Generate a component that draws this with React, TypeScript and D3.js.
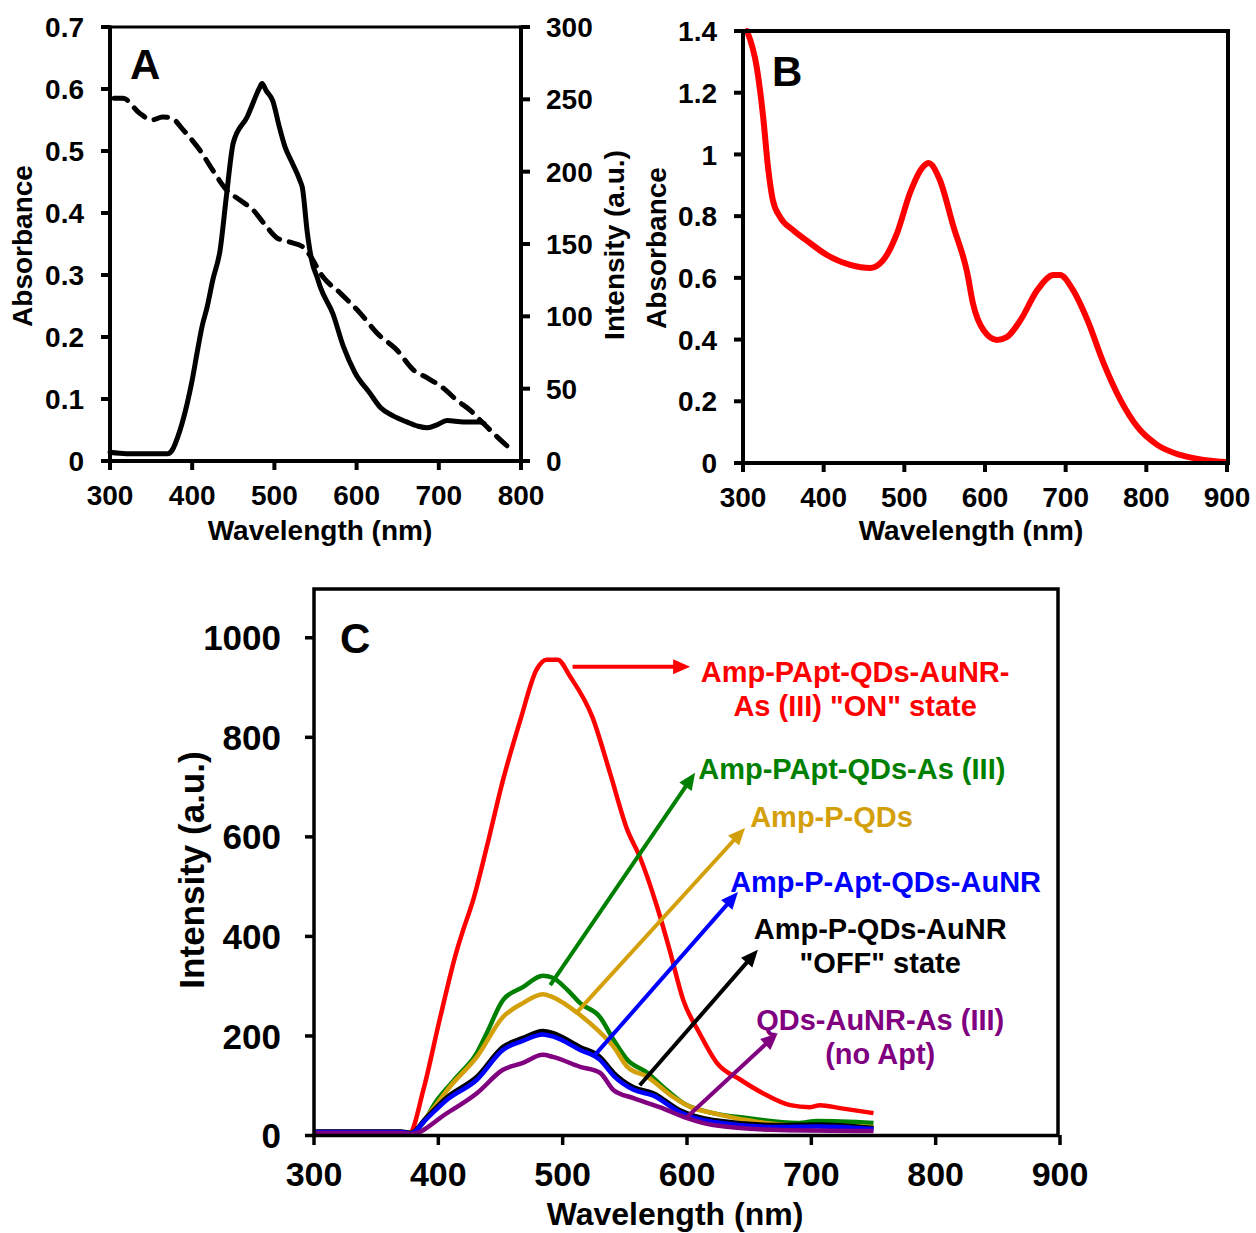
import React from 'react';
import * as d3 from 'd3';

const FONT = "'Liberation Sans', Arial, Helvetica, sans-serif";

// ---------- Panel A ----------
const aSolidWl = [300, 320, 340, 360, 370, 375, 385, 394, 400, 406, 412, 418, 425, 434, 442, 450, 467, 482, 485, 490, 498, 506, 513, 520, 531, 534, 540, 546, 552, 556, 571, 584, 598, 616, 629, 645, 661, 675, 686, 698, 710, 730, 750, 755];
const aSolidInt = [6, 5, 5, 5, 5, 7, 21, 40, 56, 75, 93, 106, 125, 146, 185, 220, 238, 258, 261, 256, 249, 231, 217, 208, 194, 189, 158, 137, 127, 120, 102, 79, 61, 47, 37, 31, 27, 24, 23, 25, 28, 27, 27, 26];
const aDashWl = [305, 316, 336, 351, 364, 375, 389, 409, 425, 442, 458, 474, 491, 503, 519, 535, 543, 559, 580, 604, 625, 649, 669, 686, 705, 722, 738, 754, 771, 785];
const aDashAbs = [0.585, 0.585, 0.561, 0.55, 0.555, 0.553, 0.534, 0.502, 0.469, 0.437, 0.421, 0.405, 0.377, 0.36, 0.353, 0.345, 0.332, 0.297, 0.271, 0.239, 0.206, 0.179, 0.147, 0.134, 0.118, 0.098, 0.082, 0.061, 0.039, 0.022];
const aAbsTicks = [0, 0.1, 0.2, 0.3, 0.4, 0.5, 0.6, 0.7];
const aIntTicks = [0, 50, 100, 150, 200, 250, 300];
const aWlTicks = [300, 400, 500, 600, 700, 800];

// ---------- Panel B ----------
const bWl = [305, 317, 325, 331, 337, 346, 362, 383, 404, 433, 458, 474, 491, 507, 523, 530, 544, 561, 578, 585, 598, 615, 627, 644, 665, 685, 693, 709, 727, 747, 768, 789, 814, 842, 871, 900];
const bAbs = [1.4, 1.283, 1.121, 0.959, 0.852, 0.797, 0.755, 0.713, 0.674, 0.642, 0.632, 0.658, 0.745, 0.875, 0.959, 0.972, 0.917, 0.765, 0.616, 0.518, 0.431, 0.399, 0.408, 0.463, 0.561, 0.609, 0.609, 0.561, 0.463, 0.324, 0.204, 0.117, 0.058, 0.026, 0.01, 0.003];
const bAbsTicks = [0, 0.2, 0.4, 0.6, 0.8, 1, 1.2, 1.4];
const bWlTicks = [300, 400, 500, 600, 700, 800, 900];

// ---------- Panel C ----------
const cRedWl = [300, 340, 370, 377, 388, 401, 415, 420, 428, 439, 452, 466, 479, 487, 496, 506, 524, 538, 552, 562, 576, 586, 597, 610, 624, 643, 661, 683, 699, 707, 723, 750];
const cRed = [3, 3, 3, 5, 92, 232, 373, 413, 473, 580, 714, 835, 936, 956, 956, 922, 840, 729, 614, 560, 459, 373, 272, 206, 146, 112, 85, 61, 57, 61, 55, 45];
const cGreenWl = [300, 340, 370, 378, 385, 399, 415, 431, 439, 452, 468, 484, 492, 504, 514, 530, 541, 552, 568, 581, 597, 621, 648, 689, 705, 750];
const cGreen = [7, 7, 7, 5, 17, 71, 118, 166, 206, 272, 298, 321, 317, 292, 266, 238, 192, 152, 126, 97, 65, 45, 35, 25, 29, 25];
const cGoldWl = [300, 340, 370, 378, 393, 410, 431, 452, 468, 484, 492, 512, 528, 541, 552, 568, 589, 603, 621, 650, 690, 705, 750];
const cGold = [7, 7, 7, 5, 45, 100, 158, 238, 266, 284, 278, 246, 212, 178, 138, 118, 77, 57, 45, 30, 20, 20, 17];
const cBlackWl = [300, 340, 370, 378, 390, 407, 431, 452, 468, 484, 492, 514, 530, 541, 557, 573, 594, 621, 675, 705, 750];
const cBlack = [8, 8, 8, 5, 35, 77, 118, 178, 196, 210, 206, 178, 158, 126, 97, 85, 51, 31, 21, 22, 15];
const cBlueWl = [300, 340, 370, 378, 390, 407, 431, 452, 468, 484, 492, 514, 530, 541, 557, 573, 594, 621, 675, 705, 750];
const cBlue = [7, 7, 7, 4, 32, 72, 112, 172, 190, 203, 199, 172, 152, 120, 92, 80, 47, 27, 17, 18, 13];
const cPurpleWl = [300, 340, 370, 378, 407, 431, 452, 468, 484, 492, 514, 530, 541, 557, 578, 600, 621, 675, 750];
const cPurple = [5, 5, 5, 3, 45, 85, 132, 146, 162, 158, 138, 126, 91, 75, 57, 35, 21, 11, 9];
const cIntTicks = [0, 200, 400, 600, 800, 1000];
const cWlTicks = [300, 400, 500, 600, 700, 800, 900];

const cSeriesNames = [
  'Amp-PApt-QDs-AuNR-As (III) "ON" state',
  'Amp-PApt-QDs-As (III)',
  'Amp-P-QDs',
  'Amp-P-QDs-AuNR "OFF" state',
  'Amp-P-Apt-QDs-AuNR',
  'QDs-AuNR-As (III) (no Apt)',
];

type P = [number, number];
const zip = (a: number[], b: number[]): P[] => a.map((v, i) => [v, b[i]]);

function Arrow({ x1, y1, x2, y2, color }: { x1: number; y1: number; x2: number; y2: number; color: string }) {
  const dx = x2 - x1, dy = y2 - y1, len = Math.hypot(dx, dy);
  const ux = dx / len, uy = dy / len;
  const hl = 17, hw = 7.5;
  const bx = x2 - ux * hl, by = y2 - uy * hl;
  const px = -uy, py = ux;
  return (
    <g>
      <line x1={x1} y1={y1} x2={bx + ux * 2} y2={by + uy * 2} stroke={color} strokeWidth={4} />
      <polygon points={`${x2},${y2} ${bx + px * hw},${by + py * hw} ${bx - px * hw},${by - py * hw}`} fill={color} />
    </g>
  );
}

const fmt = (v: number) => String(+v.toFixed(1));

function PanelA() {
  const x = d3.scaleLinear().domain([300, 800]).range([110, 521]);
  const y = d3.scaleLinear().domain([0, 0.7]).range([461, 27]);
  const y2 = d3.scaleLinear().domain([0, 300]).range([461, 27]);
  const solid = d3.line<P>().x(d => x(d[0])).y(d => y2(d[1])).curve(d3.curveMonotoneX)(zip(aSolidWl, aSolidInt)) || '';
  const dash = d3.line<P>().x(d => x(d[0])).y(d => y(d[1])).curve(d3.curveMonotoneX)(zip(aDashWl, aDashAbs)) || '';
  const fs = 28;
  return (
    <g fontFamily={FONT} fontWeight="bold" fill="#000">
      <path d={dash} fill="none" stroke="#000" strokeWidth={5} strokeDasharray="14 10" strokeLinecap="round" />
      <path d={solid} fill="none" stroke="#000" strokeWidth={5} strokeLinejoin="round" strokeLinecap="round" />
      <line x1={110} y1={27} x2={521} y2={27} stroke="#000" strokeWidth={3} />
      <line x1={110} y1={25.5} x2={110} y2={463} stroke="#000" strokeWidth={4} />
      <line x1={521} y1={25.5} x2={521} y2={463} stroke="#000" strokeWidth={4} />
      <line x1={108} y1={461} x2={523} y2={461} stroke="#000" strokeWidth={4} />
      {aAbsTicks.map(t => (
        <g key={'l' + t}>
          <line x1={101} x2={110} y1={y(t)} y2={y(t)} stroke="#000" strokeWidth={4} />
          <text x={84} y={y(t)} dy="0.36em" textAnchor="end" fontSize={fs}>{fmt(t)}</text>
        </g>
      ))}
      {aIntTicks.map(t => (
        <g key={'r' + t}>
          <line x1={521} x2={530} y1={y2(t)} y2={y2(t)} stroke="#000" strokeWidth={4} />
          <text x={546} y={y2(t)} dy="0.36em" textAnchor="start" fontSize={fs}>{t}</text>
        </g>
      ))}
      {aWlTicks.map(t => (
        <g key={'b' + t}>
          <line x1={x(t)} x2={x(t)} y1={461} y2={470} stroke="#000" strokeWidth={4} />
          <text x={x(t)} y={505} textAnchor="middle" fontSize={fs}>{t}</text>
        </g>
      ))}
      <text transform="translate(32,246) rotate(-90)" textAnchor="middle" fontSize={fs}>Absorbance</text>
      <text transform="translate(624,245) rotate(-90)" textAnchor="middle" fontSize={fs}>Intensity (a.u.)</text>
      <text x={320} y={540} textAnchor="middle" fontSize={fs}>Wavelength (nm)</text>
      <text x={130} y={79} fontSize={42}>A</text>
    </g>
  );
}

function PanelB() {
  const x = d3.scaleLinear().domain([300, 900]).range([743, 1227]);
  const y = d3.scaleLinear().domain([0, 1.4]).range([463, 31]);
  const line = d3.line<P>().x(d => x(d[0])).y(d => y(d[1])).curve(d3.curveMonotoneX)(zip(bWl, bAbs)) || '';
  const fs = 28;
  return (
    <g fontFamily={FONT} fontWeight="bold" fill="#000">
      <path d={line} fill="none" stroke="#ff0000" strokeWidth={6} strokeLinejoin="round" strokeLinecap="round" />
      <rect x={743} y={31} width={485} height={432} fill="none" stroke="#000" strokeWidth={4} />
      {bAbsTicks.map(t => (
        <g key={'l' + t}>
          <line x1={734} x2={743} y1={y(t)} y2={y(t)} stroke="#000" strokeWidth={4} />
          <text x={717} y={y(t)} dy="0.36em" textAnchor="end" fontSize={fs}>{fmt(t)}</text>
        </g>
      ))}
      {bWlTicks.map(t => (
        <g key={'b' + t}>
          <line x1={x(t)} x2={x(t)} y1={463} y2={472} stroke="#000" strokeWidth={4} />
          <text x={x(t)} y={507} textAnchor="middle" fontSize={fs}>{t}</text>
        </g>
      ))}
      <text transform="translate(666,248) rotate(-90)" textAnchor="middle" fontSize={fs}>Absorbance</text>
      <text x={971} y={540} textAnchor="middle" fontSize={fs}>Wavelength (nm)</text>
      <text x={772} y={86} fontSize={42}>B</text>
    </g>
  );
}

function PanelC() {
  const x = d3.scaleLinear().domain([300, 900]).range([314, 1060]);
  const y = d3.scaleLinear().domain([0, 1100]).range([1135.5, 588]);
  const gen = d3.line<P>().x(d => x(d[0])).y(d => y(d[1])).curve(d3.curveMonotoneX);
  const series = [
    { wl: cRedWl, v: cRed, color: '#ff0000' },
    { wl: cGreenWl, v: cGreen, color: '#008000' },
    { wl: cGoldWl, v: cGold, color: '#d4a00a' },
    { wl: cBlackWl, v: cBlack, color: '#000000' },
    { wl: cBlueWl, v: cBlue, color: '#0000ff' },
    { wl: cPurpleWl, v: cPurple, color: '#800080' },
  ];
  // annotation arrows in data coordinates [wl, intensity]
  const arrows = [
    { from: [508, 942], to: [602.5, 942], color: '#ff0000' },
    { from: [490, 302], to: [606.5, 729], color: '#008000' },
    { from: [511.6, 248], to: [646.7, 618], color: '#d4a00a' },
    { from: [526, 162], to: [641, 489], color: '#0000ff' },
    { from: [562, 101], to: [657, 373], color: '#000000' },
    { from: [600, 37], to: [673, 206], color: '#800080' },
  ];
  const labels = [
    { lines: ['Amp-PApt-QDs-AuNR-', 'As (III) "ON" state'], wl: 735.2, v: 911.6, anchor: 'middle', color: '#ff0000' },
    { lines: ['Amp-PApt-QDs-As (III)'], wl: 609, v: 716.6, anchor: 'start', color: '#008000' },
    { lines: ['Amp-P-QDs'], wl: 650.8, v: 620, anchor: 'start', color: '#d4a00a' },
    { lines: ['Amp-P-Apt-QDs-AuNR'], wl: 634.7, v: 489.4, anchor: 'start', color: '#0000ff' },
    { lines: ['Amp-P-QDs-AuNR', '"OFF" state'], wl: 755.4, v: 395, anchor: 'middle', color: '#000000' },
    { lines: ['QDs-AuNR-As (III)', '(no Apt)'], wl: 755.4, v: 212, anchor: 'middle', color: '#800080' },
  ];
  const fs = 35;
  return (
    <g fontFamily={FONT} fontWeight="bold" fill="#000">
      {series.map((s, i) => (
        <path key={i} d={gen(zip(s.wl, s.v)) || ''} fill="none" stroke={s.color} strokeWidth={4.5} strokeLinejoin="round">
          <title>{cSeriesNames[i]}</title>
        </path>
      ))}
      <rect x={314} y={589} width={744} height={546.5} fill="none" stroke="#000" strokeWidth={3.5} />
      {cIntTicks.map(t => (
        <g key={'l' + t}>
          <line x1={305} x2={314} y1={y(t)} y2={y(t)} stroke="#000" strokeWidth={3.5} />
          <text x={281} y={y(t)} dy="0.36em" textAnchor="end" fontSize={fs}>{t}</text>
        </g>
      ))}
      {cWlTicks.map(t => (
        <g key={'b' + t}>
          <line x1={x(t)} x2={x(t)} y1={1135} y2={1145} stroke="#000" strokeWidth={3.5} />
          <text x={x(t)} y={1186} textAnchor="middle" fontSize={34}>{t}</text>
        </g>
      ))}
      <text transform="translate(204,870) rotate(-90)" textAnchor="middle" fontSize={fs}>Intensity (a.u.)</text>
      <text x={675} y={1225} textAnchor="middle" fontSize={32}>Wavelength (nm)</text>
      <text x={340} y={653} fontSize={42}>C</text>
      {arrows.map((a, i) => (
        <Arrow key={i} x1={x(a.from[0])} y1={y(a.from[1])} x2={x(a.to[0])} y2={y(a.to[1])} color={a.color} />
      ))}
      {labels.map((l, i) => (
        <text key={i} x={x(l.wl)} y={y(l.v)} textAnchor={l.anchor as any} fontSize={29} fill={l.color}>
          {l.lines.map((ln, j) => (
            <tspan key={j} x={x(l.wl)} dy={j === 0 ? 0 : 34}>{ln}</tspan>
          ))}
        </text>
      ))}
    </g>
  );
}

export default function App() {
  return (
    <svg width={1256} height={1233} viewBox="0 0 1256 1233" style={{ position: 'absolute', left: 0, top: 0, background: '#fff' }}>
      <rect x={0} y={0} width={1256} height={1233} fill="#fff" />
      <PanelA />
      <PanelB />
      <PanelC />
    </svg>
  );
}
